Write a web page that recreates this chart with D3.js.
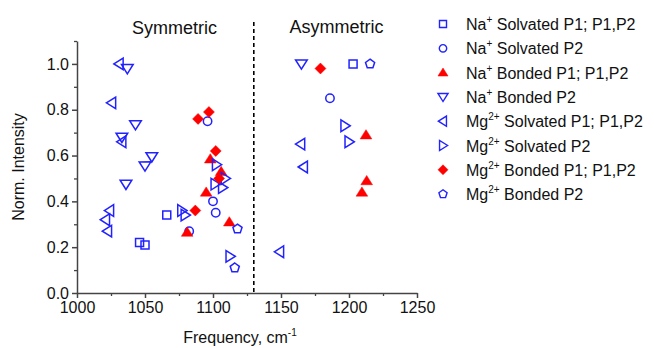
<!DOCTYPE html>
<html><head><meta charset="utf-8">
<script src="https://cdn.jsdelivr.net/npm/d3@7"></script>
<style>body{margin:0;background:#fff}svg{display:block}text{font-family:"Liberation Sans",Arial,sans-serif}</style>
</head><body>
<svg id="c" width="654" height="348"></svg>
<script>
// Data: [frequency (cm^-1), normalized intensity]
const naSolvatedP1 = [[1066,0.34],[1046,0.22],[1050,0.21],[1203,1.0]];
const naSolvatedP2 = [[1096,0.75],[1100,0.40],[1102,0.35],[1082.5,0.27],[1186,0.85]];
const naBondedP1 = [[1095,0.44],[1112,0.31],[1081,0.265],[1098,0.585],[1106,0.53],[1212.5,0.69],[1213,0.49],[1209.5,0.44]];
const naBondedP2 = [[1037,0.98],[1043,0.735],[1033,0.68],[1055,0.595],[1050,0.555],[1036,0.475],[1165,1.0]];
const mgSolvatedP1 = [[1031,1.0],[1025.5,0.83],[1033,0.66],[1024,0.36],[1021,0.32],[1022.5,0.27],[1164.5,0.65],[1166.5,0.55],[1149,0.18]];
const mgSolvatedP2 = [[1102.5,0.56],[1109,0.50],[1101.5,0.475],[1107,0.46],[1077,0.36],[1079.5,0.34],[1112.5,0.16],[1197,0.73],[1200,0.66]];
const mgBondedP1 = [[1089,0.76],[1097,0.79],[1102,0.62],[1104.5,0.50],[1087,0.36],[1179,0.98]];
const mgBondedP2 = [[1118,0.28],[1116,0.11],[1215.5,1.0]];

const xTicks = [1000,1050,1100,1150,1200,1250];
const yTicks = [0.0,0.2,0.4,0.6,0.8,1.0];
const regionLabels = ["Symmetric","Asymmetric"];
const divider = 1130;

const BLUE = "#2222ff", RED = "#ff0000";

// shapes (paths centred at 0,0, size s = half-extent)
function shape(type, s){
  const p = [];
  if(type==="square"){ return `M${-s},${-s}H${s}V${s}H${-s}Z`; }
  if(type==="circle"){ return `M${s},0A${s},${s} 0 1 1 ${-s},0A${s},${s} 0 1 1 ${s},0Z`; }
  if(type==="diamond"){ return `M0,${-s}L${s},0L0,${s}L${-s},0Z`; }
  if(type==="pentagon"){
    for(let k=0;k<5;k++){const a=-Math.PI/2+k*2*Math.PI/5;p.push([s*Math.cos(a),s*Math.sin(a)]);}
    return "M"+p.map(d=>d.join(",")).join("L")+"Z";
  }
  // triangles: base triangle pointing up
  const h = s*1.0, w = s*1.1;
  let pts = [[0,-h],[w,h*0.75],[-w,h*0.75]];
  const rot = {up:0, down:180, left:-90, right:90}[type];
  const r = rot*Math.PI/180;
  pts = pts.map(([x,y])=>[x*Math.cos(r)-y*Math.sin(r), x*Math.sin(r)+y*Math.cos(r)]);
  return "M"+pts.map(d=>d.map(v=>v.toFixed(2)).join(",")).join("L")+"Z";
}

const series = [
  {name:["Na","+"," Solvated P1; P1,P2"], data:naSolvatedP1, type:"square", size:4, lsize:3.5, fill:false},
  {name:["Na","+"," Solvated P2"], data:naSolvatedP2, type:"circle", size:4.2, lsize:3.7, fill:false},
  {name:["Na","+"," Bonded P1; P1,P2"], data:naBondedP1, type:"up", size:5.3, lsize:4.6, fill:true},
  {name:["Na","+"," Bonded P2"], data:naBondedP2, type:"down", size:5.3, lsize:4.6, fill:false},
  {name:["Mg","2+"," Solvated P1; P1,P2"], data:mgSolvatedP1, type:"left", size:5.3, lsize:4.6, fill:false},
  {name:["Mg","2+"," Solvated P2"], data:mgSolvatedP2, type:"right", size:5.3, lsize:4.6, fill:false},
  {name:["Mg","2+"," Bonded P1; P1,P2"], data:mgBondedP1, type:"diamond", size:5.5, lsize:5, fill:true},
  {name:["Mg","2+"," Bonded P2"], data:mgBondedP2, type:"pentagon", size:4.8, lsize:4.3, fill:false}
];

const svg = d3.select("#c");
const x = d3.scaleLinear().domain([1000,1250]).range([77,417]);
const y = d3.scaleLinear().domain([0,1.1]).range([293,41]);
const AX = "#444";

// x axis
const gx = svg.append("g").attr("transform","translate(0,293)");
gx.call(d3.axisBottom(x).tickValues(d3.range(1025,1250,50)).tickSize(3).tickFormat(""));
gx.call(g=>g.selectAll(".tick line").attr("stroke",AX).attr("stroke-width",1.3));
const gx2 = svg.append("g").attr("transform","translate(0,293)");
gx2.call(d3.axisBottom(x).tickValues(xTicks).tickSize(5).tickSizeOuter(0).tickPadding(4).tickFormat(d3.format("d")));
gx2.select(".domain").attr("stroke",AX).attr("stroke-width",1.5);
gx2.selectAll(".tick line").attr("stroke",AX).attr("stroke-width",1.5);
gx2.selectAll(".tick text").attr("font-size",16).attr("fill","#111").attr("font-family","Liberation Sans, Arial, sans-serif");
gx.select(".domain").remove();

// y axis
const gy = svg.append("g").attr("transform","translate(77,0)");
gy.call(d3.axisLeft(y).tickValues(d3.range(0.1,1.11,0.2)).tickSize(3).tickFormat(""));
gy.selectAll(".tick line").attr("stroke",AX).attr("stroke-width",1.3);
gy.select(".domain").remove();
const gy2 = svg.append("g").attr("transform","translate(77,0)");
gy2.call(d3.axisLeft(y).tickValues(yTicks).tickSize(5).tickSizeOuter(0).tickPadding(3).tickFormat(d3.format(".1f")));
gy2.select(".domain").attr("stroke",AX).attr("stroke-width",1.5);
gy2.selectAll(".tick line").attr("stroke",AX).attr("stroke-width",1.5);
gy2.selectAll(".tick text").attr("font-size",16).attr("fill","#111").attr("font-family","Liberation Sans, Arial, sans-serif");

// axis titles
svg.append("text").attr("x",240).attr("y",343).attr("text-anchor","middle").attr("font-size",16).attr("fill","#111")
  .call(t=>{t.append("tspan").text("Frequency, cm");t.append("tspan").attr("dy",-7).attr("font-size",10).text("-1");});
svg.append("text").attr("transform","translate(24,167) rotate(-90)").attr("text-anchor","middle").attr("font-size",16).attr("fill","#111").text("Norm. Intensity");

// divider
svg.append("line").attr("x1",x(divider)).attr("x2",x(divider)).attr("y1",22).attr("y2",293)
  .attr("stroke","#000").attr("stroke-width",1.6).attr("stroke-dasharray","4,3");

// region labels
svg.append("text").attr("x",174.5).attr("y",34).attr("text-anchor","middle").attr("font-size",18).attr("fill","#111").text(regionLabels[0]);
svg.append("text").attr("x",336.5).attr("y",33).attr("text-anchor","middle").attr("font-size",18).attr("fill","#111").text(regionLabels[1]);

// points
series.forEach(s=>{
  svg.append("g").selectAll("path").data(s.data).join("path")
    .attr("transform",d=>`translate(${x(d[0])},${y(d[1])})`)
    .attr("d",shape(s.type,s.size))
    .attr("fill",s.fill?RED:"none")
    .attr("stroke",s.fill?RED:BLUE)
    .attr("stroke-width",s.fill?0.5:1.5);
});

// legend
const lg = svg.append("g");
series.forEach((s,i)=>{
  const cy = 24 + i*24.3;
  lg.append("path").attr("transform",`translate(443,${cy})`).attr("d",shape(s.type,s.lsize))
    .attr("fill",s.fill?RED:"none").attr("stroke",s.fill?RED:BLUE).attr("stroke-width",s.fill?0.5:1.4);
  const t = lg.append("text").attr("x",466).attr("y",cy+6).attr("font-size",16).attr("fill","#111");
  t.append("tspan").text(s.name[0]);
  t.append("tspan").attr("dy",-7).attr("font-size",10).text(s.name[1]);
  t.append("tspan").attr("dy",7).text(s.name[2]);
});
</script>
</body></html>
